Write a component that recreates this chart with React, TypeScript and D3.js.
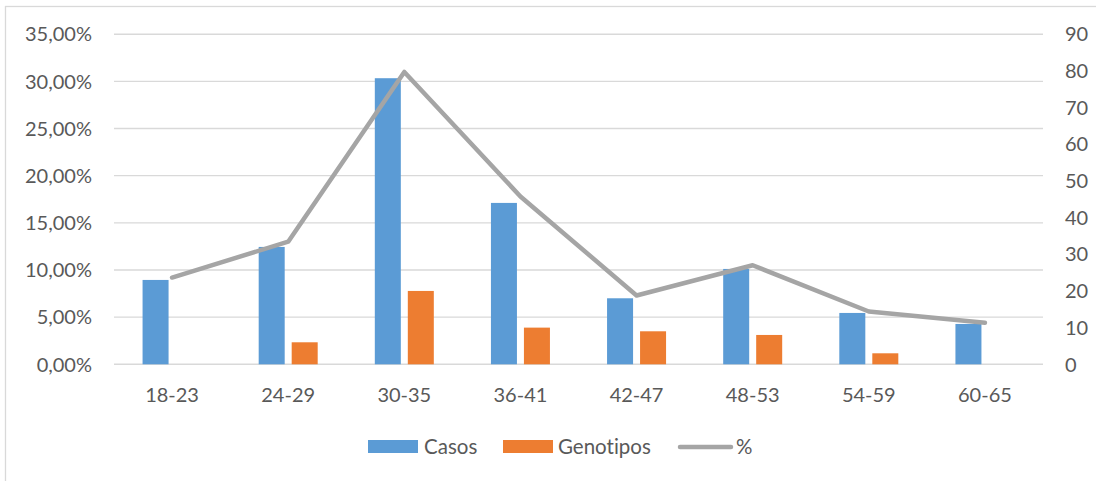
import React from 'react';
import * as d3 from 'd3';

const categories = ['18-23', '24-29', '30-35', '36-41', '42-47', '48-53', '54-59', '60-65'];
const casos = [23, 32, 78, 44, 18, 26, 14, 11];
const genotipos = [0, 6, 20, 10, 9, 8, 3, 0];
const porcentaje = [9.2, 13.0, 31.0, 17.8, 7.3, 10.5, 5.6, 4.4];
const leftTicks = [0, 5, 10, 15, 20, 25, 30, 35];
const rightTicks = [0, 10, 20, 30, 40, 50, 60, 70, 80, 90];
const seriesNames = ['Casos', 'Genotipos', '%'];

const W = 1096;
const H = 481;
const plot = { left: 114, right: 1043, top: 34.2, bottom: 364.3 };
const FONT = 'Lato, "Open Sans", sans-serif';
const TEXT = '#595959';
const BLUE = '#5B9BD5';
const ORANGE = '#ED7D31';
const GRAY = '#A5A5A5';
const GRID = '#D9D9D9';

const locale = d3.formatLocale({ decimal: ',', thousands: '.', grouping: [3], currency: ['', '€'] });
const fmtPct = (v: number) => locale.format('.2f')(v) + '%';

export default function App() {
  const x = d3.scaleBand<string>().domain(categories).range([plot.left, plot.right]).paddingInner(0).paddingOuter(0);
  const inner = d3.scaleBand<string>().domain(['Casos', 'Genotipos']).range([-29.5, 29.5]).paddingInner(0.212);
  const yL = d3.scaleLinear().domain([0, 35]).range([plot.bottom, plot.top]);
  const yR = d3.scaleLinear().domain([0, 90]).range([plot.bottom, plot.top]);
  const cx = (c: string) => (x(c) as number) + x.bandwidth() / 2;

  const line = d3
    .line<number>()
    .x((_, i) => cx(categories[i]))
    .y((d) => yL(d));

  return (
    <svg
      width={W}
      height={H}
      style={{ position: 'absolute', left: 0, top: 0, background: '#fff', fontVariantLigatures: 'none' }}
      fontFamily={FONT}
    >
      <rect x={5.5} y={6.5} width={W} height={H} fill="#fff" stroke={GRID} strokeWidth={1.3} />
      {leftTicks.map((t) => (
        <line key={'g' + t} x1={plot.left} x2={plot.right} y1={yL(t)} y2={yL(t)} stroke={GRID} strokeWidth={1.4} />
      ))}
      {leftTicks.map((t) => (
        <text key={'l' + t} x={92} y={yL(t)} dy="0.36em" textAnchor="end" fontSize={20} fill={TEXT}>
          {fmtPct(t)}
        </text>
      ))}
      {rightTicks.map((t) => (
        <text key={'r' + t} x={1065} y={yR(t)} dy="0.36em" textAnchor="start" fontSize={20} fill={TEXT}>
          {t}
        </text>
      ))}
      {categories.map((c, i) => (
        <g key={c}>
          {casos[i] > 0 && (
            <rect
              x={cx(c) + (inner('Casos') as number)}
              y={yR(casos[i])}
              width={inner.bandwidth()}
              height={yR(0) - yR(casos[i])}
              fill={BLUE}
            />
          )}
          {genotipos[i] > 0 && (
            <rect
              x={cx(c) + (inner('Genotipos') as number)}
              y={yR(genotipos[i])}
              width={inner.bandwidth()}
              height={yR(0) - yR(genotipos[i])}
              fill={ORANGE}
            />
          )}
          <text x={cx(c)} y={402} textAnchor="middle" fontSize={20} fill={TEXT}>
            {c}
          </text>
        </g>
      ))}
      <path d={line(porcentaje) || ''} fill="none" stroke={GRAY} strokeWidth={4.5} strokeLinejoin="round" strokeLinecap="round" />
      <g>
        <rect x={368} y={440} width={50} height={13} fill={BLUE} />
        <text x={424} y={454} fontSize={20.5} fill={TEXT}>{seriesNames[0]}</text>
        <rect x={503} y={440} width={50} height={13} fill={ORANGE} />
        <text x={558} y={454} fontSize={20.5} fill={TEXT}>{seriesNames[1]}</text>
        <line x1={680} x2={731} y1={447} y2={447} stroke={GRAY} strokeWidth={4.5} strokeLinecap="round" />
        <text x={736} y={454} fontSize={20.5} fill={TEXT}>{seriesNames[2]}</text>
      </g>
    </svg>
  );
}
